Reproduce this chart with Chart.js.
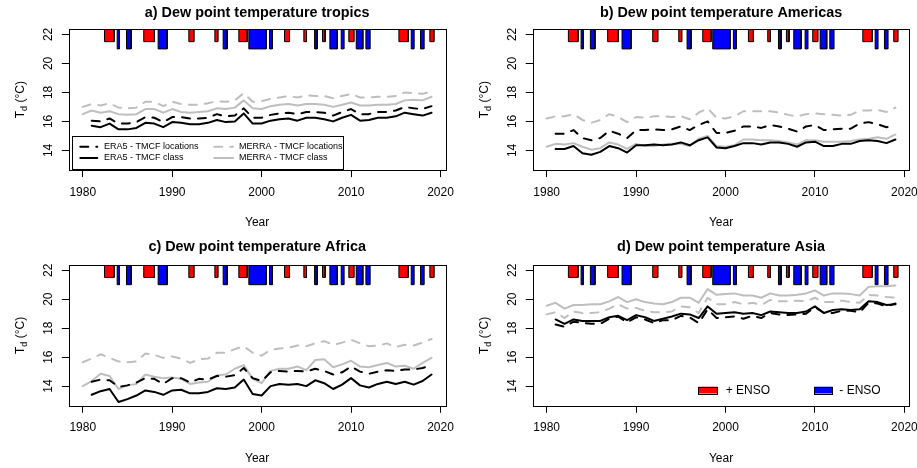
<!DOCTYPE html>
<html><head><meta charset="utf-8">
<script src="https://cdn.jsdelivr.net/npm/chart.js@4.4.1/dist/chart.umd.min.js"></script>
<style>
html,body{margin:0;padding:0;background:#fff;width:917px;height:468px;overflow:hidden}
canvas{position:absolute}
</style></head><body>
<canvas id="pa" width="458" height="234" style="left:0;top:0"></canvas>
<canvas id="pb" width="459" height="234" style="left:458px;top:0"></canvas>
<canvas id="pc" width="458" height="234" style="left:0;top:234px"></canvas>
<canvas id="pd" width="459" height="234" style="left:458px;top:234px"></canvas>
<script>
// ---------------- data ----------------
const years = [1980,1981,1982,1983,1984,1985,1986,1987,1988,1989,1990,1991,1992,1993,1994,1995,1996,1997,1998,1999,
               2000,2001,2002,2003,2004,2005,2006,2007,2008,2009,2010,2011,2012,2013,2014,2015,2016,2017,2018,2019];
const xTicks = [1980, 1990, 2000, 2010, 2020];
const yTicks = [14, 16, 18, 20, 22];

const tropicsEra5Loc   = [null,16.05,16.0,16.2,15.85,15.85,15.95,16.3,16.25,15.95,16.3,16.3,16.2,16.2,16.25,16.5,16.35,16.4,16.9,16.25,16.25,16.45,16.55,16.6,16.5,16.65,16.65,16.6,16.4,16.65,16.85,16.5,16.5,16.65,16.65,16.75,17.0,16.9,16.85,17.05];
const tropicsEra5Class = [null,15.7,15.6,15.85,15.45,15.45,15.55,15.9,15.85,15.6,15.95,15.9,15.8,15.8,15.9,16.1,15.95,16.0,16.55,15.85,15.85,16.05,16.15,16.2,16.05,16.25,16.25,16.15,16.0,16.25,16.45,16.05,16.1,16.25,16.25,16.35,16.6,16.5,16.4,16.6];
const tropicsMerraLoc  = [17.0,17.2,17.1,17.25,16.95,16.9,16.95,17.35,17.35,17.05,17.35,17.2,17.15,17.15,17.25,17.4,17.35,17.45,17.95,17.35,17.4,17.55,17.65,17.75,17.65,17.8,17.75,17.75,17.6,17.75,17.9,17.65,17.65,17.7,17.7,17.75,18.0,17.95,17.9,18.05];
const tropicsMerraClass= [16.5,16.75,16.6,16.7,16.5,16.45,16.5,16.85,16.85,16.6,16.85,16.65,16.6,16.65,16.7,16.9,16.85,16.95,17.45,16.9,16.85,17.05,17.15,17.2,17.1,17.2,17.2,17.15,17.0,17.15,17.3,17.1,17.1,17.15,17.15,17.2,17.45,17.5,17.45,17.7];

const americasEra5Loc   = [null,15.15,15.15,15.4,14.85,14.7,14.85,15.35,15.15,14.85,15.4,15.4,15.45,15.4,15.45,15.65,15.4,15.75,16.0,15.2,15.2,15.35,15.65,15.65,15.55,15.75,15.65,15.5,15.3,15.65,15.75,15.4,15.45,15.5,15.5,15.85,15.95,15.8,15.6,15.65];
const americasEra5Class = [null,14.1,14.1,14.3,13.8,13.7,13.9,14.3,14.15,13.85,14.35,14.35,14.4,14.35,14.4,14.55,14.35,14.7,14.9,14.2,14.15,14.3,14.5,14.5,14.4,14.55,14.55,14.45,14.25,14.55,14.6,14.3,14.3,14.45,14.45,14.65,14.7,14.65,14.5,14.75];
const americasMerraLoc  = [16.2,16.35,16.35,16.5,16.1,15.9,16.1,16.5,16.3,15.95,16.3,16.25,16.35,16.35,16.3,16.35,16.15,16.6,16.9,16.25,16.2,16.35,16.7,16.7,16.7,16.7,16.6,16.45,16.35,16.5,16.55,16.5,16.45,16.4,16.45,16.75,16.75,16.8,16.65,16.95];
const americasMerraClass= [14.25,14.45,14.4,14.5,14.25,14.05,14.15,14.55,14.4,14.1,14.45,14.3,14.3,14.4,14.45,14.45,14.3,14.8,15.0,14.3,14.25,14.35,14.75,14.75,14.7,14.7,14.65,14.55,14.4,14.7,14.7,14.6,14.6,14.6,14.65,14.75,14.8,14.9,14.8,15.1];

const africaEra5Loc   = [null,14.3,14.45,14.4,13.95,14.05,14.25,14.55,14.5,14.15,14.55,14.55,14.25,14.5,14.45,14.7,14.65,14.75,15.25,14.55,14.35,14.95,15.05,15.0,15.05,15.0,15.2,15.05,14.8,14.95,15.35,15.0,14.85,15.0,15.1,15.05,15.15,15.15,15.25,15.45];
const africaEra5Class = [null,13.4,13.65,13.8,12.9,13.1,13.35,13.7,13.6,13.4,13.7,13.75,13.5,13.5,13.6,13.85,13.8,13.9,14.45,13.45,13.35,14.0,14.15,14.1,14.15,14.0,14.4,14.2,13.8,14.1,14.55,14.05,13.9,14.15,14.3,14.15,14.3,14.1,14.35,14.8];
const africaMerraLoc  = [15.65,15.9,16.2,15.95,15.7,15.65,15.7,16.25,16.15,15.95,16.05,15.9,15.6,15.85,15.9,16.3,16.3,16.55,16.75,16.3,16.1,16.5,16.6,16.65,16.8,16.75,16.95,17.1,16.85,17.0,17.2,16.95,16.75,16.8,16.95,16.7,16.85,16.8,17.0,17.25];
const africaMerraClass= [14.0,14.35,14.85,14.7,13.8,14.05,14.15,14.8,14.65,14.55,14.6,14.5,14.15,14.25,14.3,14.75,14.8,15.2,15.45,14.5,14.2,15.05,15.2,15.2,15.35,15.1,15.8,15.85,15.3,15.5,15.75,15.35,15.3,15.45,15.6,15.35,15.4,15.2,15.6,15.95];

const asiaEra5Loc   = [null,18.25,18.1,18.45,18.35,18.3,18.3,18.65,18.8,18.4,18.75,18.6,18.35,18.55,18.55,18.85,18.75,18.35,19.3,18.7,18.75,18.8,18.65,18.85,18.7,19.05,18.95,18.9,18.95,19.0,19.45,19.05,19.05,19.2,19.2,19.1,19.75,19.7,19.5,19.7];
const asiaEra5Class = [null,18.6,18.3,18.6,18.5,18.5,18.5,18.75,18.85,18.55,18.9,18.75,18.5,18.65,18.8,19.0,18.95,18.7,19.5,19.0,19.05,19.1,19.0,19.05,18.9,19.15,19.1,19.05,19.05,19.15,19.5,19.05,19.25,19.3,19.25,19.3,19.85,19.8,19.6,19.65];
const asiaMerraLoc  = [18.95,19.1,18.7,19.15,19.05,19.05,19.1,19.35,19.65,19.35,19.4,19.2,19.1,19.1,19.15,19.5,19.45,19.05,20.1,19.65,19.65,19.8,19.65,19.75,19.6,19.95,19.85,19.85,19.9,19.85,20.1,19.8,19.8,19.9,19.8,19.75,20.3,20.25,20.15,20.1];
const asiaMerraClass= [19.55,19.75,19.35,19.6,19.6,19.65,19.65,19.85,20.15,19.8,20.0,19.8,19.7,19.65,19.8,20.1,20.1,19.75,20.7,20.3,20.35,20.4,20.25,20.25,20.1,20.4,20.25,20.25,20.3,20.4,20.6,20.25,20.4,20.4,20.35,20.25,20.85,20.9,20.9,20.95];

// ENSO events: start / end (decimal years) and phase
const ensoStart = [1982.43,1983.85,1984.89,1986.82,1988.43,1991.86,1994.77,1995.70,1997.45,1998.57,2000.88,2002.56,2004.72,2005.92,2006.81,2007.63,2008.90,2009.75,2010.58,2011.66,2015.35,2016.73,2017.77,2018.81];
const ensoEnd   = [1983.51,1984.10,1985.41,1988.02,1989.44,1992.42,1995.10,1996.15,1998.39,2000.51,2001.19,2003.12,2005.02,2006.22,2007.11,2008.46,2009.19,2010.31,2011.32,2012.10,2016.40,2017.02,2018.14,2019.26];
const ensoPhase = ['+','-','-','+','-','+','+','-','+','-','-','+','+','-','+','-','-','+','-','-','+','-','-','+'];

const seriesNames = ['ERA5 - TMCF locations','ERA5 - TMCF class','MERRA - TMCF locations','MERRA - TMCF class'];
const ensoNames = ['+ ENSO','- ENSO'];

// ---------------- style / layout ----------------
const FONT = "'Liberation Sans', Arial, Helvetica, sans-serif";
const GREY = '#bebebe';
const X_MIN = 1978.44, X_MAX = 2020.56, Y_MIN = 12.64, Y_MAX = 22.36;
const ENSO_TOP = Y_MAX, ENSO_POS_BOTTOM = 21.5, ENSO_NEG_BOTTOM = 21.0;
const TITLE_SIZE = 14.4, TITLE_CENTER = 13.5, XH = 60;

Chart.defaults.font.family = FONT;
Chart.defaults.color = '#000';

const panels = [
  {id:'pa', title:'a) Dew point temperature tropics', ox:0, oy:0, area:{l:68.8,t:29.2,r:445.5,b:170.1},
   series:[tropicsEra5Loc,tropicsEra5Class,tropicsMerraLoc,tropicsMerraClass], legend:'series'},
  {id:'pb', title:'b) Dew point temperature Americas', ox:458, oy:0, area:{l:532.7,t:29.2,r:909.4,b:170.1},
   series:[americasEra5Loc,americasEra5Class,americasMerraLoc,americasMerraClass], legend:null},
  {id:'pc', title:'c) Dew point temperature Africa', ox:0, oy:234, area:{l:68.8,t:265,r:445.5,b:405.8},
   series:[africaEra5Loc,africaEra5Class,africaMerraLoc,africaMerraClass], legend:null},
  {id:'pd', title:'d) Dew point temperature Asia', ox:458, oy:234, area:{l:532.7,t:265,r:909.4,b:405.8},
   series:[asiaEra5Loc,asiaEra5Class,asiaMerraLoc,asiaMerraClass], legend:'enso'}
];

function drawYTitle(ctx, x, y) {
  ctx.save();
  ctx.translate(x, y);
  ctx.rotate(-Math.PI / 2);
  ctx.fillStyle = '#000';
  ctx.textBaseline = 'middle';
  ctx.textAlign = 'left';
  const big = '12px ' + FONT, small = '9px ' + FONT;
  ctx.font = big; const wT = ctx.measureText('T').width; const wR = ctx.measureText(' (\u00B0C)').width;
  ctx.font = small; const wd = ctx.measureText('d').width;
  let cx = -(wT + wd + wR) / 2;
  ctx.font = big; ctx.fillText('T', cx, 0); cx += wT;
  ctx.font = small; ctx.fillText('d', cx, 3.5); cx += wd;
  ctx.font = big; ctx.fillText(' (\u00B0C)', cx, 0);
  ctx.restore();
}

const framePlugin = {
  id: 'rframe',
  afterDraw(chart, args, opts) {
    const ctx = chart.ctx, a = chart.chartArea;
    const ox = opts.ox, oy = opts.oy;
    ctx.save();
    ctx.strokeStyle = '#000';
    ctx.lineWidth = 1;
    const l = Math.round(a.left) + 0.5, t = Math.round(a.top) + 0.5;
    ctx.strokeRect(l, t, Math.round(a.right) - Math.round(a.left), Math.round(a.bottom) - Math.round(a.top));
    drawYTitle(ctx, a.left - 48, (a.top + a.bottom) / 2);

    if (opts.legend === 'series') {
      // legend box (page coords)
      const bx0 = 72.2 - ox, bx1 = 343.3 - ox, by0 = 136 - oy, by1 = 169 - oy;
      ctx.fillStyle = '#fff';
      ctx.fillRect(bx0, by0, bx1 - bx0, by1 - by0);
      ctx.strokeRect(Math.round(bx0) + 0.5, Math.round(by0) + 0.5, Math.round(bx1 - bx0), Math.round(by1 - by0));
      const rows = [146.7 - oy, 158 - oy];
      const cols = [{s:80.3 - ox, e:97.3 - ox, tx:104 - ox}, {s:214.3 - ox, e:233 - ox, tx:239 - ox}];
      const styles = [{c:'#000', d:[8,8]}, {c:'#000', d:[]}, {c:GREY, d:[8,8]}, {c:GREY, d:[]}];
      ctx.font = '9px ' + FONT;
      ctx.textBaseline = 'middle';
      ctx.textAlign = 'left';
      for (let i = 0; i < 4; i++) {
        const col = cols[Math.floor(i / 2)], y = rows[i % 2], st = styles[i];
        ctx.save();
        ctx.strokeStyle = st.c; ctx.lineWidth = 2; ctx.lineCap = 'round'; ctx.setLineDash(st.d);
        ctx.beginPath(); ctx.moveTo(col.s, y); ctx.lineTo(col.e, y); ctx.stroke();
        ctx.restore();
        ctx.fillStyle = '#000';
        ctx.fillText(seriesNames[i], col.tx, y);
      }
    }
    if (opts.legend === 'enso') {
      const items = [{x0:698.3, x1:717.3, tx:725.7, c:'#ff0000'}, {x0:814.3, x1:832.7, tx:839.3, c:'#0000ff'}];
      const y0 = 386.7 - oy, y1 = 393.5 - oy, ty = 390.2 - oy;
      ctx.font = '12px ' + FONT;
      ctx.textBaseline = 'middle';
      ctx.textAlign = 'left';
      items.forEach((it, i) => {
        ctx.fillStyle = it.c;
        ctx.fillRect(it.x0 - ox, y0, it.x1 - it.x0, y1 - y0);
        ctx.strokeStyle = '#000';
        ctx.strokeRect(Math.round(it.x0 - ox) + 0.5, Math.round(y0) + 0.5, Math.round(it.x1 - it.x0), Math.round(y1 - y0));
        ctx.fillStyle = '#000';
        ctx.fillText(ensoNames[i], it.tx - ox, ty);
      });
    }
    ctx.restore();
  }
};

function lineDataset(vals, color, dash) {
  return {
    data: years.map((yr, i) => ({x: yr, y: vals[i]})),
    borderColor: color, borderWidth: 2, borderDash: dash,
    borderCapStyle: 'round', borderJoinStyle: 'round',
    pointRadius: 0, fill: false, tension: 0
  };
}

function ensoDatasets() {
  return ensoStart.map((s, i) => {
    const e = ensoEnd[i];
    const pos = ensoPhase[i] === '+';
    const bot = pos ? ENSO_POS_BOTTOM : ENSO_NEG_BOTTOM;
    return {
      data: [{x:s,y:ENSO_TOP},{x:e,y:ENSO_TOP},{x:e,y:bot},{x:s,y:bot},{x:s,y:ENSO_TOP}],
      borderColor: '#000', borderWidth: 1, backgroundColor: pos ? '#ff0000' : '#0000ff',
      fill: 'shape', pointRadius: 0, tension: 0, borderJoinStyle: 'miter', borderCapStyle: 'butt'
    };
  });
}

function makeChart(p) {
  const canvas = document.getElementById(p.id);
  const W = canvas.width, H = canvas.height;
  const rl = p.area.l - p.ox, rt = p.area.t - p.oy, rr = p.area.r - p.ox, rb = p.area.b - p.oy;
  const lh = TITLE_SIZE * 1.2;
  const datasets = [
    lineDataset(p.series[1], '#000', []),
    lineDataset(p.series[0], '#000', [8, 8]),
    lineDataset(p.series[3], GREY, []),
    lineDataset(p.series[2], GREY, [8, 8]),
    ...ensoDatasets()
  ];
  return new Chart(canvas, {
    type: 'line',
    data: { datasets },
    options: {
      responsive: false, animation: false, devicePixelRatio: 1, events: [],
      parsing: true,
      layout: { autoPadding: false, padding: { left: 0, top: 0, right: W - rr, bottom: H - rb - XH } },
      plugins: {
        legend: { display: false },
        tooltip: { enabled: false },
        title: {
          display: true, text: p.title, fullSize: false, color: '#000',
          font: { size: TITLE_SIZE, weight: 'bold', family: FONT },
          padding: { top: TITLE_CENTER - lh / 2, bottom: rt - TITLE_CENTER - lh / 2 }
        },
        rframe: { ox: p.ox, oy: p.oy, legend: p.legend }
      },
      scales: {
        x: {
          type: 'linear', position: 'bottom', min: X_MIN, max: X_MAX,
          afterBuildTicks: s => { s.ticks = xTicks.map(v => ({value: v})); },
          afterFit: s => { s.height = XH; s.paddingLeft = 0; s.paddingRight = 0; },
          grid: { display: true, drawOnChartArea: false, drawTicks: true, tickLength: 7, color: '#000', lineWidth: 1 },
          border: { display: false },
          ticks: { autoSkip: false, maxRotation: 0, minRotation: 0, padding: 8, color: '#000',
                   font: { size: 12, family: FONT }, callback: v => String(v) },
          title: { display: true, text: 'Year', color: '#000', font: { size: 12, family: FONT }, padding: { top: 0, bottom: 0.1 } }
        },
        y: {
          type: 'linear', position: 'left', min: Y_MIN, max: Y_MAX,
          afterBuildTicks: s => { s.ticks = yTicks.map(v => ({value: v})); },
          afterFit: s => { s.width = rl; s.paddingTop = 0; s.paddingBottom = 0; },
          grid: { display: true, drawOnChartArea: false, drawTicks: true, tickLength: 7, color: '#000', lineWidth: 1 },
          border: { display: false },
          ticks: { autoSkip: false, minRotation: 90, maxRotation: 90, crossAlign: 'center', padding: 6.6, color: '#000',
                   font: { size: 12, family: FONT }, callback: v => String(v) }
        }
      }
    },
    plugins: [framePlugin]
  });
}

panels.forEach(makeChart);
</script>
</body></html>
